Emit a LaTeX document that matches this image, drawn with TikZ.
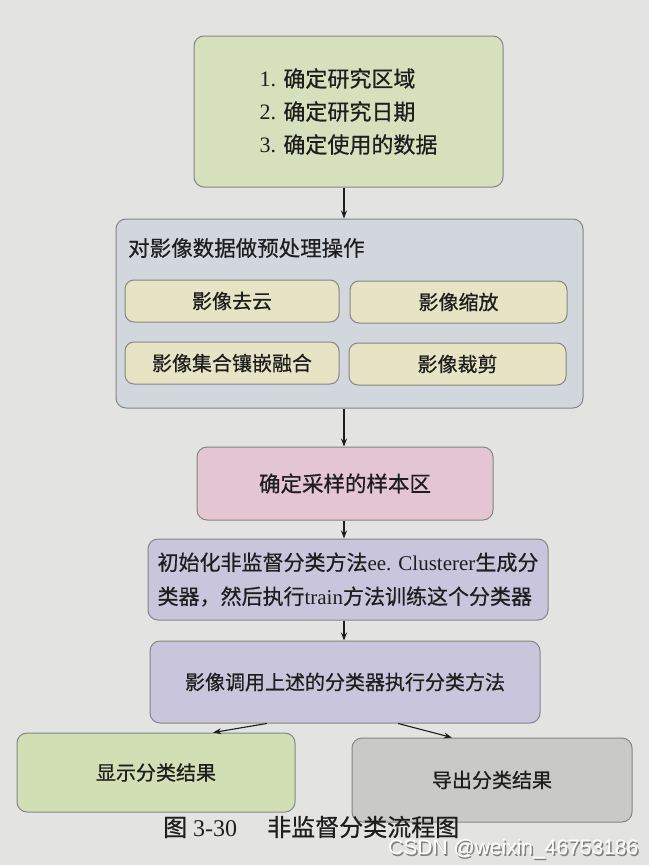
\documentclass[tikz,border=0pt]{standalone}
\usepackage{fontspec}
\setmainfont{Liberation Serif}
\newfontfamily\cjk[FakeBold=0.6]{Noto Sans CJK SC}
\newfontfamily\wm{Liberation Sans}
\usetikzlibrary{arrows.meta,calc}
\definecolor{bgpage}{HTML}{E3E3E1}
\definecolor{fgreen}{HTML}{D6E0BC}
\definecolor{fblue}{HTML}{D2D7DD}
\definecolor{fcream}{HTML}{E6E4C4}
\definecolor{fpink}{HTML}{E3C6D2}
\definecolor{flav}{HTML}{C9C5DC}
\definecolor{fgreen2}{HTML}{D2DEB4}
\definecolor{fgray}{HTML}{C9C9C7}
\definecolor{bord}{HTML}{858585}
\definecolor{ink}{HTML}{1E1E1E}
\tikzset{
  box/.style={draw=bord, line width=1pt, rounded corners=10pt, inner sep=0pt,
    font=\fontsize{20}{33}\selectfont, text=ink},
  sub/.style={box, fill=fcream, minimum width=214pt, minimum height=42pt, rounded corners=9pt},
  conn/.style={draw=ink, line width=1.1pt, -{Stealth[length=8pt,width=6pt]}},
}
\begin{document}
\begin{tikzpicture}[x=1pt,y=-1pt]
\useasboundingbox (0,0) rectangle (649,865);
\fill[bgpage] (0,0) rectangle (649,865);
\coordinate (ax) at (344,0);

\node[box, fill=fgreen, minimum width=309pt, minimum height=151pt, align=left, font=\fontsize{22}{33}\selectfont] (b1) at (348.5,111.5)
  {1. {\cjk 确定研究区域}\\2. {\cjk 确定研究日期}\\3. {\cjk 确定使用的数据}};

\node[box, fill=fblue, minimum width=467pt, minimum height=189pt] (b2) at (349.5,313.5) {};
\node[anchor=west, font=\cjk\fontsize{21.5}{24}\selectfont, text=ink, inner sep=0pt] (t2) at (128,248) {对影像数据做预处理操作};
\node[sub] (s1) at (232,301) {\cjk 影像去云};
\node[sub, minimum width=217pt] (s2) at (458.5,302) {\cjk 影像缩放};
\node[sub] (s3) at (232,363) {\cjk 影像集合镶嵌融合};
\node[sub, minimum width=217pt] (s4) at (457.5,364) {\cjk 影像裁剪};

\node[box, fill=fpink, minimum width=296pt, minimum height=73pt, font=\fontsize{21.5}{26}\selectfont] (b3) at (345,483.5) {\cjk 确定采样的样本区};

\node[box, fill=flav, minimum width=400pt, minimum height=81pt, align=left, font=\fontsize{21}{34}\selectfont] (b4) at (348,579.5)
  {{\cjk 初始化非监督分类方法}ee. Clusterer{\cjk 生成分}\\{\cjk 类器，然后执行}train{\cjk 方法训练这个分类器}};

\node[box, fill=flav, minimum width=390pt, minimum height=82pt] (b5) at (345,682) {\cjk 影像调用上述的分类器执行分类方法};

\node[box, fill=fgreen2, minimum width=278pt, minimum height=79pt] (b6) at (156,772.5) {\cjk 显示分类结果};
\node[box, fill=fgray, minimum width=280pt, minimum height=84pt] (b7) at (492,780) {\cjk 导出分类结果};

\draw[conn] (b1.south -| ax) -- (b2.north -| ax);
\draw[conn] (b2.south -| ax) -- (b3.north -| ax);
\draw[conn] (b3.south -| ax) -- (b4.north -| ax);
\draw[conn] (b4.south -| ax) -- (b5.north -| ax);
\draw[conn] ($(b5.south west)!0.3!(b5.south east)$) -- ($(b6.north west)!0.705!(b6.north east)$);
\draw[conn] ($(b5.south west)!0.636!(b5.south east)$) -- ($(b7.north west)!0.357!(b7.north east)$);

\node[anchor=west, inner sep=0pt, text=ink, font=\fontsize{24}{28}\selectfont] (cap) at (163,827)
  {{\cjk 图} 3-30\hspace{30pt}{\cjk 非监督分类流程图}};

\node[anchor=west, inner sep=0pt, text=gray, font=\wm\fontsize{21}{24}\selectfont] (wm1) at (389.5,850.5) {CSDN @weixin\_46753186};
\node[anchor=west, inner sep=0pt, text=white, font=\wm\fontsize{21}{24}\selectfont] (wm2) at (388,849) {CSDN @weixin\_46753186};
\end{tikzpicture}
\end{document}
